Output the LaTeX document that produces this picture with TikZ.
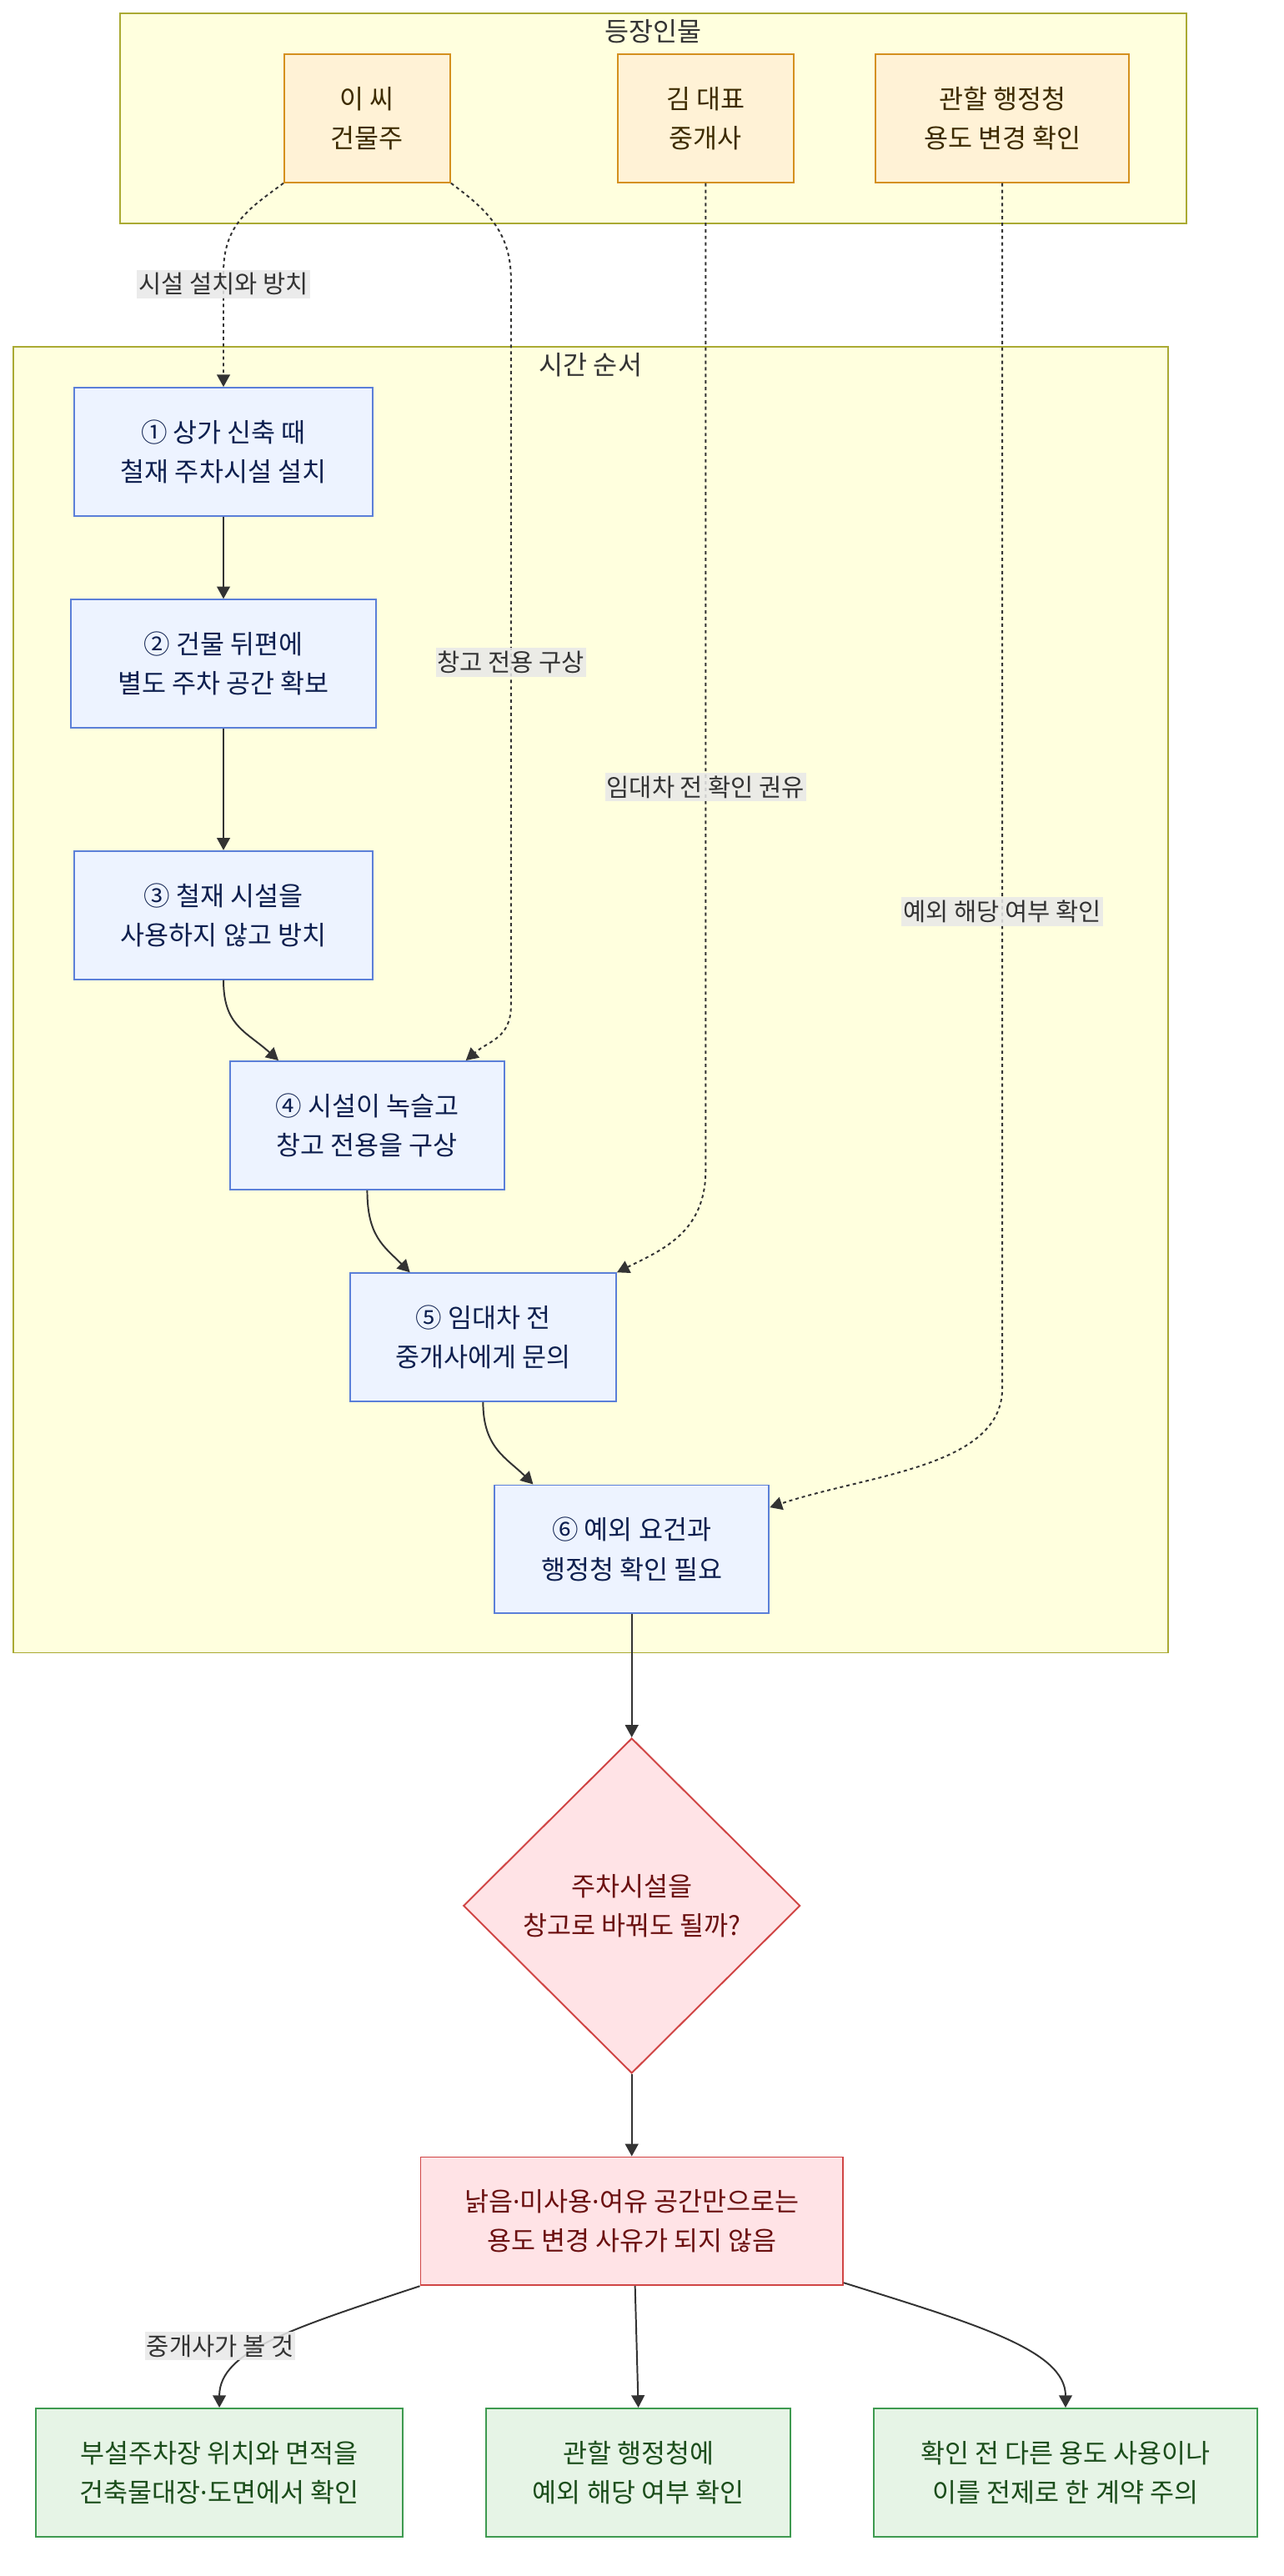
\documentclass[tikz,border=0pt]{standalone}
\usepackage{fontspec}
\setmainfont{Noto Sans CJK KR}
\newfontfamily\dotfont{Noto Sans}
\newcommand{\mdot}{{\dotfont ·}}
\usetikzlibrary{arrows.meta,positioning,shapes.geometric,calc}
\definecolor{groupbg}{HTML}{FFFFDE}
\definecolor{groupline}{HTML}{AAAA33}
\definecolor{actorbg}{HTML}{FFF2D6}
\definecolor{actorline}{HTML}{D4901E}
\definecolor{actortext}{HTML}{3D2B00}
\definecolor{stepbg}{HTML}{EDF3FF}
\definecolor{stepline}{HTML}{5B7FD8}
\definecolor{steptext}{HTML}{0D1F4F}
\definecolor{warnbg}{HTML}{FFE3E6}
\definecolor{warnline}{HTML}{D04545}
\definecolor{warntext}{HTML}{6B1010}
\definecolor{checkbg}{HTML}{E6F4E6}
\definecolor{checkline}{HTML}{3E9A50}
\definecolor{checktext}{HTML}{1B4D1B}
\definecolor{edgeline}{HTML}{333333}
\definecolor{labelbg}{HTML}{E8E8E8}

\tikzset{
  box/.style={draw, rectangle, align=center, inner sep=0pt, line width=1pt,
    minimum height=78pt, font=\fontsize{16}{24}\selectfont},
  actor/.style={box, fill=actorbg, draw=actorline, text=actortext},
  stepbox/.style={box, fill=stepbg, draw=stepline, text=steptext},
  warnbox/.style={box, fill=warnbg, draw=warnline, text=warntext},
  checkbox/.style={box, fill=checkbg, draw=checkline, text=checktext},
  group/.style={fill=groupbg, draw=groupline, line width=1pt},
  grouptitle/.style={text=edgeline, font=\fontsize{16}{24}\selectfont},
  flow/.style={draw=edgeline, line width=1pt,
    -{Triangle[length=7.5pt,width=8pt]}},
  hint/.style={flow, dash pattern=on 2pt off 2pt},
  elabel/.style={fill=labelbg, fill opacity=0.85, text opacity=1, text=edgeline,
    inner xsep=1pt, inner ysep=2pt, font=\fontsize{15}{18}\selectfont}
}

\begin{document}
\begin{tikzpicture}[x=1pt, y=-1pt]
  \useasboundingbox (0,0) rectangle (781,1568);

  % Groups
  \draw[group] (73,8) rectangle (722,136);
  \node[grouptitle] (ttlA) at (397.5,19) {등장인물};
  \draw[group] (8,211) rectangle (711,1006);
  \node[grouptitle] (ttlB) at (359.5,222) {시간 순서};

  % Actors
  \node[actor, minimum width=101pt] (lee) at (223.5,72) {이 씨\\건물주};
  \node[actor, minimum width=107pt] (kim) at (429.5,72) {김 대표\\중개사};
  \node[actor, minimum width=154pt] (gov) at (610,72) {관할 행정청\\용도 변경 확인};

  % Timeline
  \node[stepbox, minimum width=182pt] (n1) at (136,275) {① 상가 신축 때\\철재 주차시설 설치};
  \node[stepbox, minimum width=186pt] (n2) at (136,404) {② 건물 뒤편에\\별도 주차 공간 확보};
  \node[stepbox, minimum width=182pt] (n3) at (136,557) {③ 철재 시설을\\사용하지 않고 방치};
  \node[stepbox, minimum width=167pt] (n4) at (223.5,685) {④ 시설이 녹슬고\\창고 전용을 구상};
  \node[stepbox, minimum width=162pt] (n5) at (294,814) {⑤ 임대차 전\\중개사에게 문의};
  \node[stepbox, minimum width=167pt] (n6) at (384.5,943) {⑥ 예외 요건과\\행정청 확인 필요};

  % Question and result
  \node[draw=warnline, fill=warnbg, text=warntext, line width=1pt, diamond,
    shape aspect=1, minimum width=205pt, minimum height=204pt, inner sep=0pt,
    align=center, font=\fontsize{16}{24}\selectfont] (ask) at (384.5,1160)
    {주차시설을\\창고로 바꿔도 될까?};
  \node[warnbox, minimum width=257pt] (rule) at (384.5,1352)
    {낡음\mdot 미사용\mdot 여유 공간만으로는\\용도 변경 사유가 되지 않음};

  % Checks
  \node[checkbox, minimum width=223pt] (chkA) at (133.5,1505)
    {부설주차장 위치와 면적을\\건축물대장\mdot 도면에서 확인};
  \node[checkbox, minimum width=185pt] (chkB) at (388.5,1505)
    {관할 행정청에\\예외 해당 여부 확인};
  \node[checkbox, minimum width=233pt] (chkC) at (648.5,1505)
    {확인 전 다른 용도 사용이나\\이를 전제로 한 계약 주의};

  % Actor hints (dotted)
  \draw[hint] (lee.south west) .. controls +(-20,15) and +(0,-30) .. (136,166)
    -- (n1.north);
  \draw[hint] (lee.south east) .. controls +(20,15) and +(0,-30) .. (311,170)
    -- (311,612) .. controls +(0,20) and +(14,-12) .. ($(n4.north east)+(-24,0)$);
  \draw[hint] (kim.south) -- (429.5,712)
    .. controls +(0,38) and +(28,-14) .. (n5.north east);
  \draw[hint] (gov.south) -- (610,845)
    .. controls +(0,48) and +(60,-20) .. ($(n6.north east)+(0,14)$);

  % Timeline flow
  \draw[flow] (n1) -- (n2);
  \draw[flow] (n2) -- (n3);
  \draw[flow] (n3.south) .. controls +(0,28) and +(-20,-18) .. ($(n4.north west)+(30,0)$);
  \draw[flow] (n4.south) .. controls +(0,28) and +(-16,-16) .. ($(n5.north west)+(37,0)$);
  \draw[flow] (n5.south) .. controls +(0,28) and +(-16,-16) .. ($(n6.north west)+(24,0)$);
  \draw[flow] (n6) -- (ask);
  \draw[flow] (ask) -- (rule);
  \draw[flow] (rule.south west) .. controls +(-75,25) and +(0,-35) .. (chkA.north);
  \draw[flow] ($(rule.south)+(2,0)$) -- (chkB.north);
  \draw[flow] ($(rule.south east)+(0,-2)$) .. controls +(80,25) and +(0,-35) .. (chkC.north);

  % Edge labels
  \node[elabel] (lbA) at (136,173) {시설 설치와 방치};
  \node[elabel] (lbB) at (311,403) {창고 전용 구상};
  \node[elabel] (lbC) at (429.5,479) {임대차 전 확인 권유};
  \node[elabel] (lbD) at (610,555) {예외 해당 여부 확인};
  \node[elabel] (lbE) at (134,1428) {중개사가 볼 것};
\end{tikzpicture}
\end{document}
